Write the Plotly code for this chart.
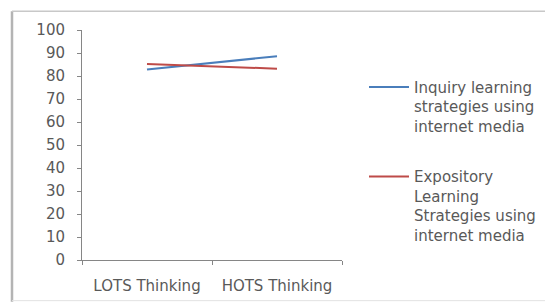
import plotly.graph_objects as go

categories = ["LOTS Thinking", "HOTS Thinking"]
inquiry = [82.8, 88.6]
expository = [85.2, 83.2]
series_names = ["Inquiry learning<br>strategies using<br>internet media",
                "Expository<br>Learning<br>Strategies using<br>internet media"]
y_ticks = list(range(0, 101, 10))

# page has an 8px body margin; figure sized to fill the rest of the window
OFF = 8
W, H = 553 - OFF, 307 - OFF
L, T = 82 - OFF, 30 - OFF
R = W - (342 - OFF)
B = H - (262 - OFF)
pw, ph = W - L - R, H - T - B

def px(x):  # screen x -> paper
    return (x - OFF - L) / pw

def py(y):  # screen y -> paper
    return (H - B - (y - OFF)) / ph

fig = go.Figure()
fig.add_trace(go.Scatter(x=categories, y=inquiry, mode="lines", name=series_names[0],
                         line=dict(color="#4a7ebb", width=2), legendgroup="a"))
fig.add_trace(go.Scatter(x=categories, y=expository, mode="lines", name=series_names[1],
                         line=dict(color="#be4b48", width=2), legendgroup="b"))

font = dict(family="DejaVu Sans", size=15, color="#595959")

fig.update_layout(
    width=W, height=H,
    margin=dict(l=L, r=R, t=T, b=B),
    paper_bgcolor="white", plot_bgcolor="white",
    font=font,
    showlegend=True,
    legend=dict(x=px(364), y=py(71), xanchor="left", yanchor="top",
                valign="top", tracegroupgap=28, traceorder="grouped",
                font=font, bgcolor="rgba(0,0,0,0)", itemwidth=40),
    xaxis=dict(type="category", showgrid=False, showline=True, linecolor="#868686",
               linewidth=1, ticks="outside", tickson="boundaries", ticklen=4,
               tickcolor="#868686", tickfont=font, range=[-0.5, 1.5],
               ticklabelstandoff=12),
    yaxis=dict(range=[0, 100], tickvals=y_ticks, showgrid=False, showline=True,
               linecolor="#868686", linewidth=1, ticks="outside", ticklen=4,
               tickcolor="#868686", tickfont=font, zeroline=False,
               ticklabelstandoff=9),
)

fig.add_shape(type="line", xref="paper", yref="paper",
              x0=px(12), x1=px(12), y0=py(304), y1=py(11),
              line=dict(color="#b4b4b4", width=2.5))
fig.add_shape(type="line", xref="paper", yref="paper",
              x0=px(12), x1=px(560), y0=py(11), y1=py(11),
              line=dict(color="#c8c8c8", width=1.5))
fig.add_shape(type="line", xref="paper", yref="paper",
              x0=px(12), x1=px(560), y0=py(303), y1=py(303),
              line=dict(color="#e2e2e2", width=1))

fig.write_html("out.html")
